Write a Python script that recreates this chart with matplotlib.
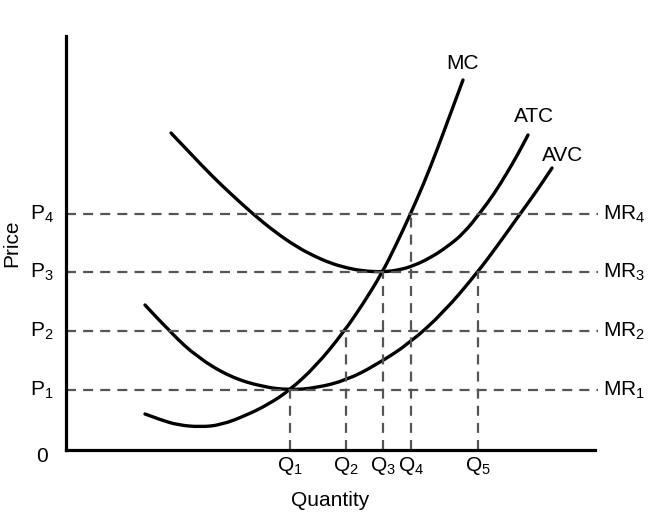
# Cost curves with MR lines (price / quantity diagram)
import matplotlib.pyplot as plt
from matplotlib.path import Path
from matplotlib.patches import PathPatch

plt.rcParams['font.family'] = ['Liberation Sans', 'DejaVu Sans']
plt.rcParams['mathtext.fontset'] = 'custom'
plt.rcParams['mathtext.rm'] = 'Liberation Sans'
plt.rcParams['mathtext.it'] = 'Liberation Sans'

# ---------------- data (arbitrary units) ----------------
p_levels = [60, 119, 178, 236]           # P1..P4
p_names = ['1', '2', '3', '4']
q_levels = [224, 280, 317, 345, 412]     # Q1..Q5
q_names = ['1', '2', '3', '4', '5']
q_tops = [60, 119, 178, 236, 178]        # height each Q guide reaches

mc_x = [79, 95, 112, 134, 155, 181, 203, 224, 250, 277, 297, 316, 330, 344, 358, 371, 384, 397]
mc_y = [36, 30, 25, 23, 25, 35, 46, 60, 84, 117, 146, 177, 205, 235, 267, 300, 335, 370]

avc_x = [79, 105, 131, 164, 197, 224, 250, 281, 310, 344, 378, 411, 432, 454, 470, 486]
avc_y = [145, 117, 93, 73, 63, 60, 62, 70, 85, 107, 138, 177, 205, 236, 258, 282]

atc_x = [105, 125, 145, 166, 187, 209, 231, 248, 264, 281, 297, 317, 333, 347, 364, 381, 398, 414, 428, 441, 452, 462]
atc_y = [317, 296, 275, 255, 236, 218, 203, 194, 187, 182, 179, 178, 180, 184, 192, 203, 217, 237, 256, 277, 296, 315]


def smooth_curve(ax, xs, ys):
    # quadratic bezier through midpoints of the read points
    verts = [(xs[0], ys[0])]
    codes = [Path.MOVETO]
    for i in range(1, len(xs) - 1):
        verts.append((xs[i], ys[i]))
        verts.append(((xs[i] + xs[i + 1]) / 2.0, (ys[i] + ys[i + 1]) / 2.0))
        codes += [Path.CURVE3, Path.CURVE3]
    verts.append((xs[-1], ys[-1]))
    codes.append(Path.LINETO)
    patch = PathPatch(Path(verts, codes), facecolor='none', edgecolor='black',
                      lw=2.4, capstyle='round', clip_on=False)
    ax.add_patch(patch)


# ---------------- figure ----------------
fig = plt.figure(figsize=(6.72, 5.18), dpi=100)
ax = fig.add_axes([66 / 672, 68 / 518, 529 / 672, 414 / 518])
ax.set_xlim(0, 529)
ax.set_ylim(0, 414)
for s in ['top', 'right']:
    ax.spines[s].set_visible(False)
for s in ['left', 'bottom']:
    ax.spines[s].set_linewidth(2.3)
ax.set_xticks([])
ax.set_yticks([])

dash_col = '#555555'
dash = (0, (4.5, 3.2))
txt = dict(fontsize=15, ha='center', va='center', color='black')

# horizontal MR lines
for p, n in zip(p_levels, p_names):
    ax.plot([0, 532], [p, p], color=dash_col, lw=1.6, linestyle=dash, clip_on=False)
    ax.text(-24, p, '$\\mathrm{P}_{' + n + '}$', **txt)
    ax.text(537, p, '$\\mathrm{MR}_{' + n + '}$', fontsize=15, ha='left', va='center', color='black')

# vertical Q guides
for q, top, n in zip(q_levels, q_tops, q_names):
    ax.plot([q, q], [0, top], color=dash_col, lw=1.6, linestyle=dash)
    ax.text(q, -16, '$\\mathrm{Q}_{' + n + '}$', **txt)

# cost curves
smooth_curve(ax, mc_x, mc_y)
smooth_curve(ax, avc_x, avc_y)
smooth_curve(ax, atc_x, atc_y)

ax.text(397, 387, 'MC', **txt)
ax.text(468, 334, 'ATC', **txt)
ax.text(497, 295, 'AVC', **txt)

ax.text(-24, -7, '0', **txt)
ax.text(264, -50, 'Quantity', **txt)
ax.text(-54, 207, 'Price', rotation=90, **txt)

fig.savefig('out.png', dpi=100)
